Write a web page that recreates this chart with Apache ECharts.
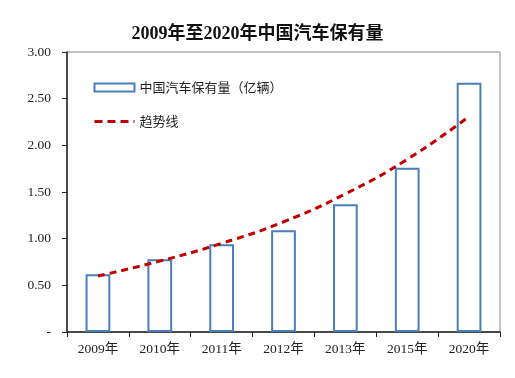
<!DOCTYPE html>
<html><head><meta charset="utf-8">
<script src="https://cdn.jsdelivr.net/npm/echarts@6/dist/echarts.min.js"></script>
<style>html,body{margin:0;padding:0;background:#fff}#c{width:515px;height:378px}</style>
</head><body><div id="c"></div>
<script>
const categories = ['2009年','2010年','2011年','2012年','2013年','2015年','2020年'];
const carStock = [0.62, 0.78, 0.94, 1.09, 1.37, 1.76, 2.67];
const trendValues = [0.60, 0.76, 0.95, 1.18, 1.48, 1.85, 2.31];
const yTicks = [0, 0.5, 1, 1.5, 2, 2.5, 3];

const serif = '"Liberation Serif","Noto Sans CJK SC",serif';
const chart = echarts.init(document.getElementById('c'));
chart.setOption({
  backgroundColor: '#fff',
  animation: false,
  title: {
    text: '2009年至2020年中国汽车保有量',
    left: 'center', top: 20,
    textStyle: {fontFamily: serif, fontSize: 18, fontWeight: 'bold', color: '#111'}
  },
  legend: {
    orient: 'vertical', left: 88, top: 76,
    itemWidth: 40, itemHeight: 8, itemGap: 21,
    textStyle: {fontFamily: '"Noto Sans CJK SC",sans-serif', fontSize: 13, color: '#222'},
    data: [
      {name: '中国汽车保有量（亿辆）', icon: 'rect'},
      {name: '趋势线', itemStyle: {opacity: 0}, lineStyle: {width: 3, type: [8, 5], color: '#c00000'}}
    ]
  },
  grid: {left: 67, right: 15, top: 52, bottom: 46, show: true, borderColor: '#888', borderWidth: 1},
  xAxis: {
    type: 'category', data: categories,
    axisLine: {lineStyle: {color: '#222', width: 1.5}},
    axisTick: {show: true, inside: false, length: 5, lineStyle: {color: '#222'}},
    axisLabel: {fontFamily: serif, fontSize: 13.5, color: '#222', margin: 11}
  },
  yAxis: {
    type: 'value', min: 0, max: 3, interval: 0.5,
    axisLine: {show: true, lineStyle: {color: '#222', width: 1.5}},
    axisTick: {show: true, length: 5, lineStyle: {color: '#222'}},
    splitLine: {show: false},
    axisLabel: {fontFamily: serif, fontSize: 13.5, color: '#222', margin: 16,
      formatter: v => v === 0 ? '-' : v.toFixed(2)}
  },
  series: [
    {
      name: '中国汽车保有量（亿辆）', type: 'bar', data: carStock, barWidth: '40%',
      itemStyle: {color: '#fff', borderColor: '#4a7ebb', borderWidth: 2}
    },
    {
      name: '趋势线', type: 'line', data: trendValues, smooth: true, symbol: 'none',
      lineStyle: {color: '#c00000', width: 3, type: [7, 5]},
      itemStyle: {color: '#c00000'}
    }
  ]
});
</script></body></html>
